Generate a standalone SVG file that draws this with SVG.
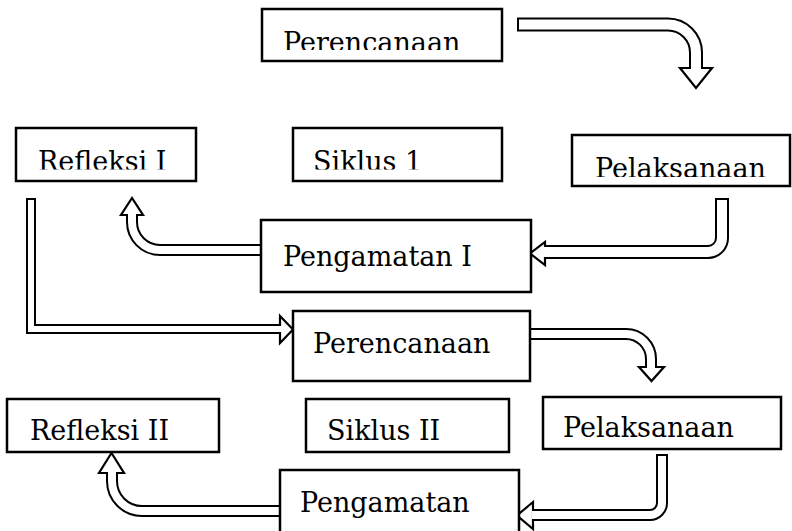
<svg xmlns="http://www.w3.org/2000/svg" width="792" height="531" viewBox="0 0 792 531">
<style>
.box{fill:#fff;stroke:#000;stroke-width:2.5}
.lbl{font-family:"DejaVu Serif","Liberation Serif",serif;font-size:27px;fill:#000}
.bo{fill:none;stroke:#000}
.bi{fill:none;stroke:#fff}
.head{fill:#fff;stroke:#000;stroke-width:2.2;stroke-linejoin:miter}
</style>
<defs>
<clipPath id="c1"><rect x="262" y="9" width="240" height="41"/></clipPath>
<clipPath id="c2"><rect x="16" y="128" width="180" height="41.5"/></clipPath>
<clipPath id="c3"><rect x="293" y="128" width="209" height="41.5"/></clipPath>
<clipPath id="c4"><rect x="572" y="135" width="218" height="42"/></clipPath>
</defs>
<g id="connectors">
  <!-- Perencanaan -> Pelaksanaan (top) -->
  <path class="bo" stroke-width="14" d="M517,24.5 H668 A28,28 0 0 1 696,52.5 V70"/>
  <polygon class="head" points="680,68 712,68 696,88"/>
  <path class="bi" stroke-width="10" d="M519,24.5 H668 A28,28 0 0 1 696,52.5 V71"/>
  <!-- Pelaksanaan -> Pengamatan I -->
  <path class="bo" stroke-width="14" d="M722,198 V238 A14,14 0 0 1 708,252 H543"/>
  <polygon class="head" points="545,242 545,265 530,253.5"/>
  <path class="bi" stroke-width="10" d="M722,200 V238 A14,14 0 0 1 708,252 H542"/>
  <!-- Pengamatan I -> Refleksi I -->
  <path class="bo" stroke-width="12" d="M261,250 H160 A28,28 0 0 1 132,222 V213"/>
  <polygon class="head" points="121,215 143,215 132,198"/>
  <path class="bi" stroke-width="8" d="M262,250 H160 A28,28 0 0 1 132,222 V212"/>
  <!-- Refleksi I -> Perencanaan (II) -->
  <path class="bo" stroke-width="10" stroke-linejoin="miter" d="M31,198 V329 H282"/>
  <polygon class="head" points="280,316 293,329.5 280,343"/>
  <path class="bi" stroke-width="6" stroke-linejoin="miter" d="M31,200 V329 H283"/>
  <!-- Perencanaan -> Pelaksanaan (II) -->
  <path class="bo" stroke-width="12" d="M530,334 H626 A25,25 0 0 1 651,359 V369"/>
  <polygon class="head" points="639,367 664,367 651.5,381"/>
  <path class="bi" stroke-width="8" d="M531,334 H626 A25,25 0 0 1 651,359 V370"/>
  <!-- Pelaksanaan -> Pengamatan (II) -->
  <path class="bo" stroke-width="12" d="M662,454 V503 A12,12 0 0 1 650,515 H533"/>
  <polygon class="head" points="533,502 533,529 517,515.5"/>
  <path class="bi" stroke-width="8" d="M662,456 V503 A12,12 0 0 1 650,515 H532"/>
  <!-- Pengamatan -> Refleksi II -->
  <path class="bo" stroke-width="12" d="M279,511 H142 A30,30 0 0 1 112,481 V471"/>
  <polygon class="head" points="99,473 124,473 111.5,453"/>
  <path class="bi" stroke-width="8" d="M280,511 H142 A30,30 0 0 1 112,481 V470"/>
</g>
<g id="perencanaan1">
  <rect class="box" x="262" y="9" width="240" height="52"/>
  <text class="lbl" x="283" y="52" clip-path="url(#c1)">Perencanaan</text>
</g>
<g id="refleksi1">
  <rect class="box" x="16" y="128" width="180" height="53"/>
  <text class="lbl" x="38" y="171" clip-path="url(#c2)">Refleksi I</text>
</g>
<g id="siklus1">
  <rect class="box" x="293" y="128" width="209" height="53"/>
  <text class="lbl" x="313" y="171" clip-path="url(#c3)">Siklus 1</text>
</g>
<g id="pelaksanaan1">
  <rect class="box" x="572" y="135" width="218" height="51"/>
  <text class="lbl" x="595" y="178" clip-path="url(#c4)">Pelaksanaan</text>
</g>
<g id="pengamatan1">
  <rect class="box" x="261" y="220" width="270" height="72"/>
  <text class="lbl" x="283" y="266">Pengamatan I</text>
</g>
<g id="perencanaan2">
  <rect class="box" x="293" y="311" width="237" height="70"/>
  <text class="lbl" x="313" y="353">Perencanaan</text>
</g>
<g id="refleksi2">
  <rect class="box" x="7" y="399" width="212" height="53"/>
  <text class="lbl" x="30" y="440">Refleksi II</text>
</g>
<g id="siklus2">
  <rect class="box" x="306" y="399" width="203" height="53"/>
  <text class="lbl" x="327" y="440">Siklus II</text>
</g>
<g id="pelaksanaan2">
  <rect class="box" x="543" y="397" width="238" height="52"/>
  <text class="lbl" x="563" y="437">Pelaksanaan</text>
</g>
<g id="pengamatan2">
  <rect class="box" x="280" y="470" width="239" height="70"/>
  <text class="lbl" x="300" y="512">Pengamatan</text>
</g>
</svg>
